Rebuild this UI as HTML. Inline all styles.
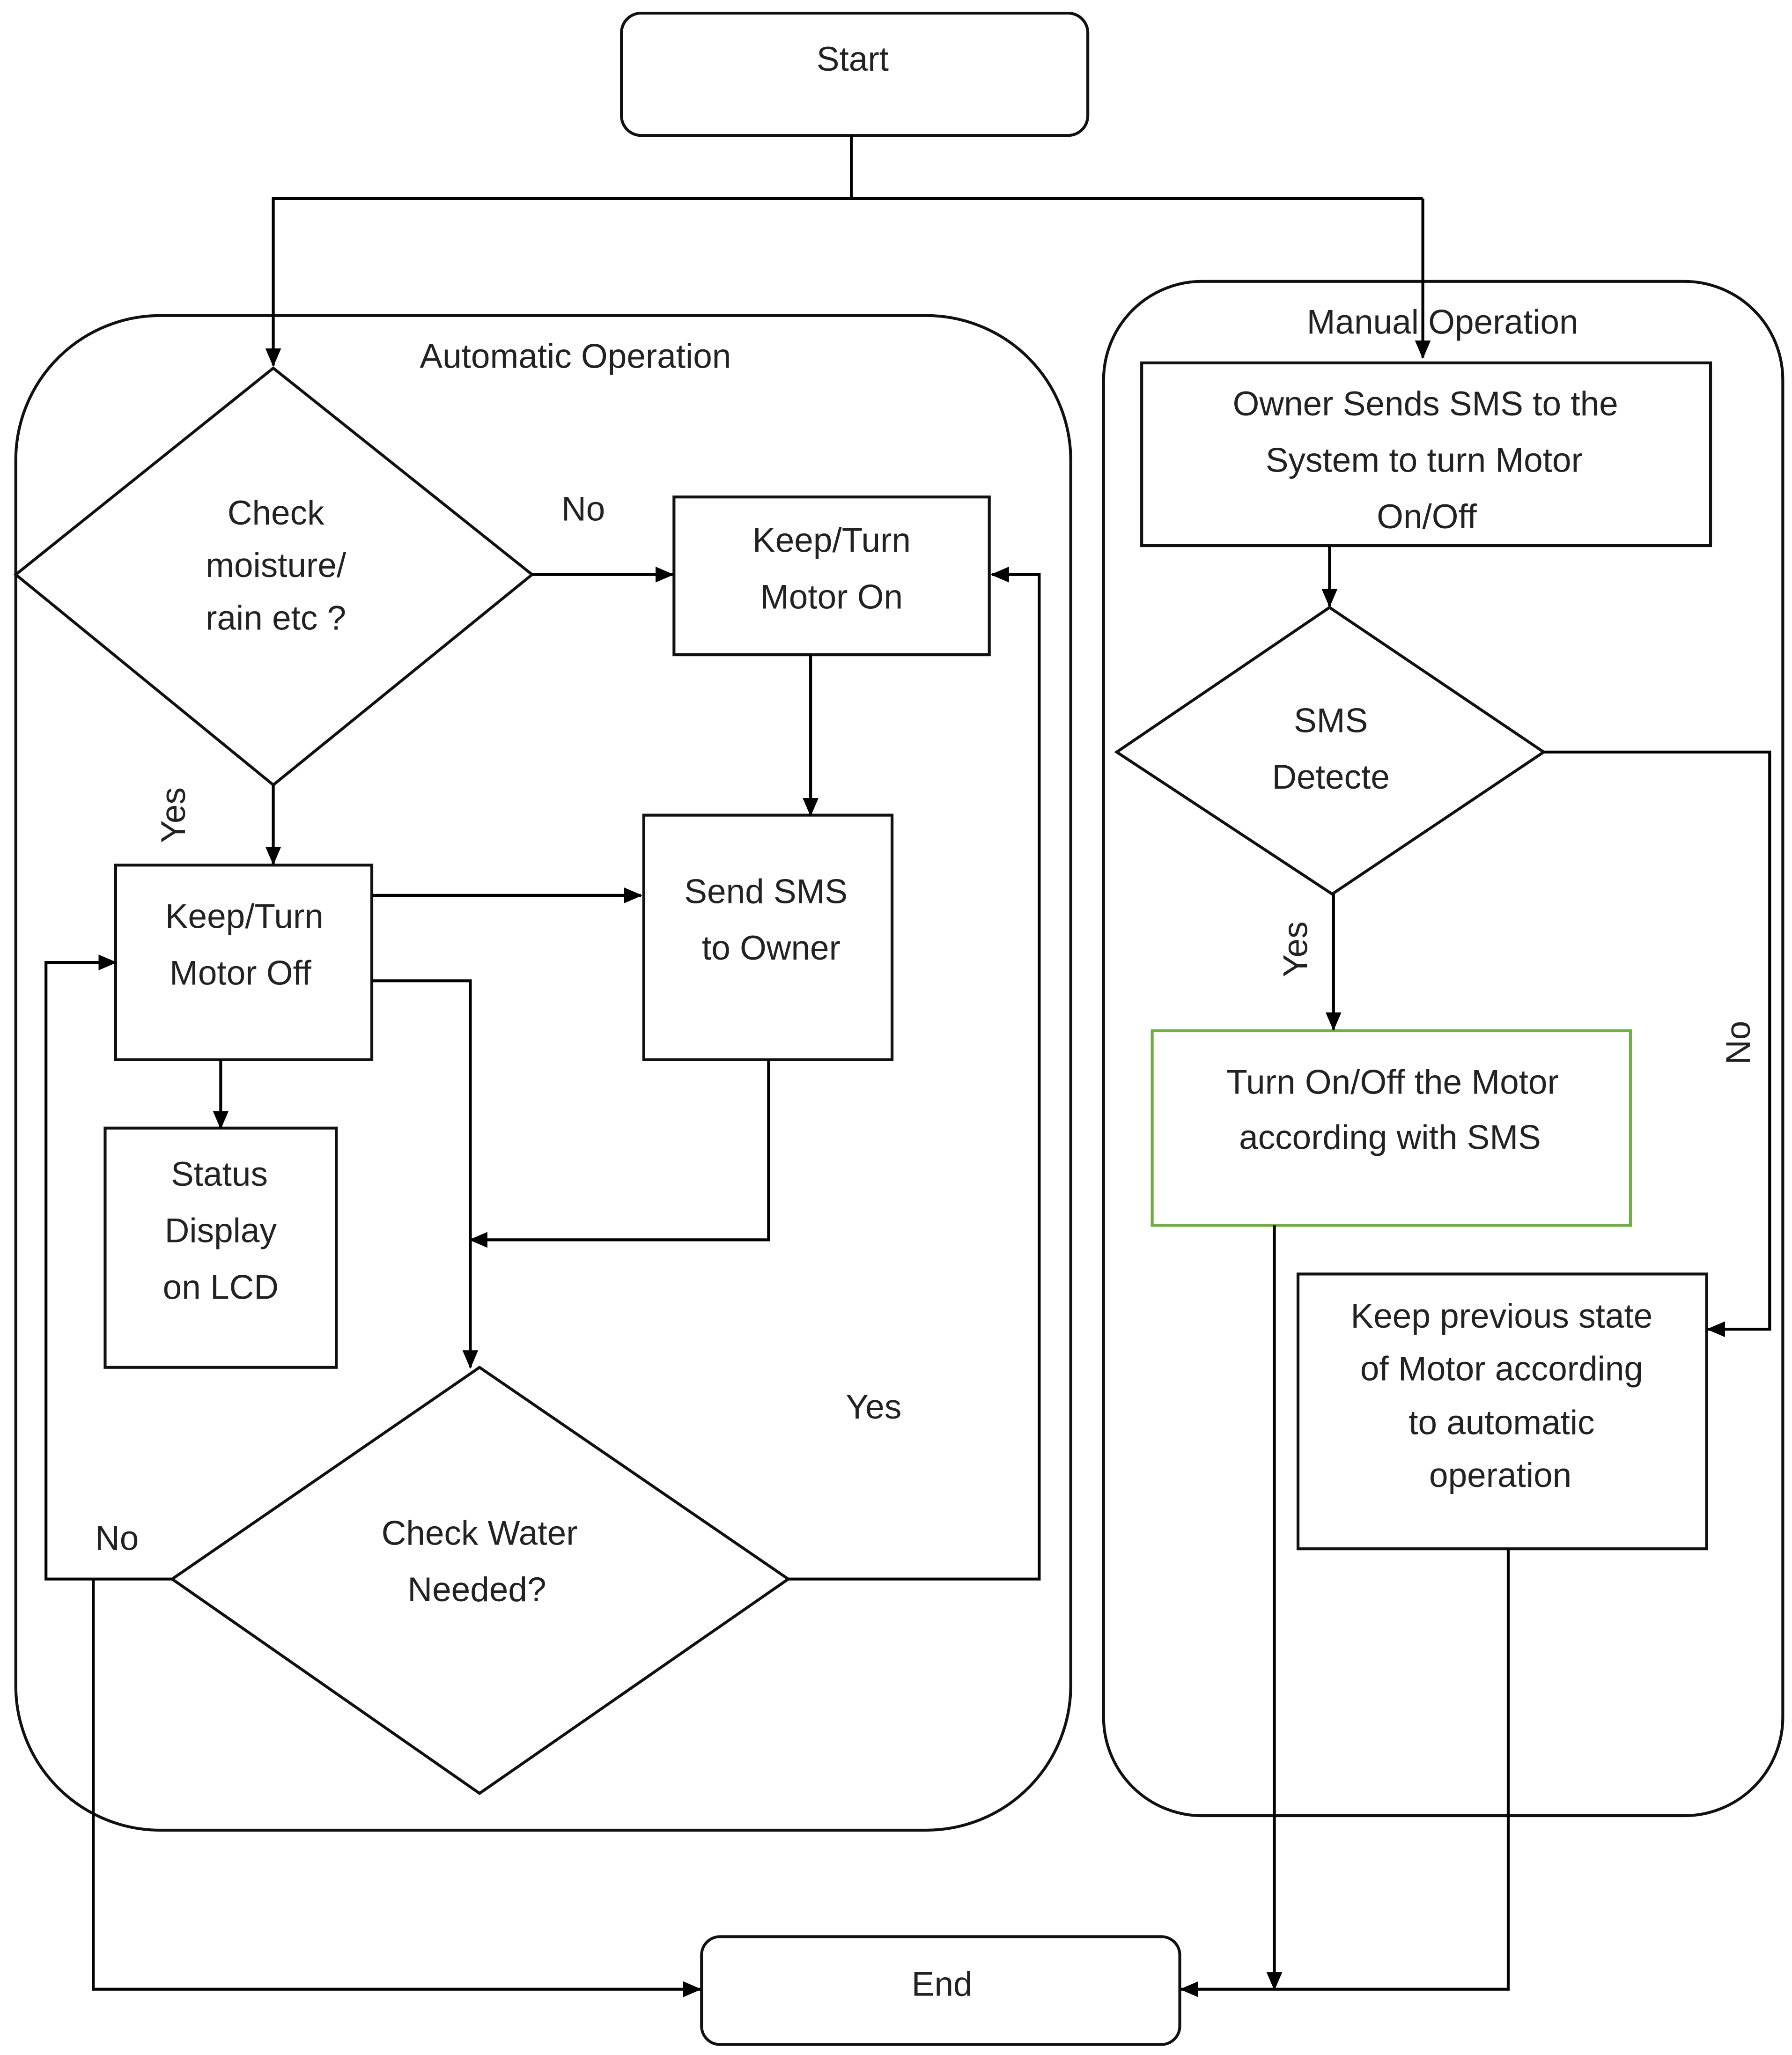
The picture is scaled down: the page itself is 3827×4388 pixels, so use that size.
<!DOCTYPE html>
<html><head><meta charset="utf-8"><style>
html,body{margin:0;padding:0;background:#fff}
svg{display:block}
text{font-family:"Liberation Sans",sans-serif;font-size:26px;fill:#222;text-anchor:middle;dominant-baseline:middle}
</style></head><body>
<svg width="3827" height="4388" viewBox="0 0 1364 1563" preserveAspectRatio="none" xmlns="http://www.w3.org/2000/svg">
<defs>
<marker id="a" markerWidth="10" markerHeight="10" refX="9" refY="5" orient="auto" markerUnits="userSpaceOnUse"><path d="M0,0 L10,5 L0,10 z" fill="#000"/></marker>
<marker id="b" markerWidth="14" markerHeight="14" refX="13" refY="7" orient="auto" markerUnits="userSpaceOnUse"><path d="M0,1 L14,7 L0,13 z" fill="#000"/></marker>
<clipPath id="c1"><rect x="869" y="276" width="433" height="139"/></clipPath>
</defs>
<g fill="none" stroke="#111" stroke-width="2.2">
<rect x="473" y="10" width="355" height="93" rx="15"/>
<rect x="12" y="240" width="803" height="1152" rx="110"/>
<rect x="840" y="214" width="517" height="1167" rx="75"/>
<polygon points="208,280 405,437 208,597 12,437"/>
<rect x="513" y="378" width="240" height="120"/>
<rect x="490" y="620" width="189" height="186"/>
<rect x="88" y="658" width="195" height="148"/>
<rect x="80" y="858" width="176" height="182"/>
<polygon points="365,1040 600,1201 365,1364 131,1201"/>
<rect x="534" y="1473" width="364" height="82" rx="14"/>
<rect x="869" y="276" width="433" height="139"/>
<polygon points="1012,462 1175,572 1014,680 850,572"/>
<rect x="877" y="784" width="364" height="148" stroke="#70AD47"/>
<rect x="988" y="969" width="311" height="209"/>
</g>
<g fill="none" stroke="#000" stroke-width="2.2">
<polyline points="648,103 648,151"/>
<polyline points="1083,151 208,151 208,278" marker-end="url(#b)"/>
<polyline points="1083,151 1083,272" marker-end="url(#b)"/>
<polyline points="405,437 512,437" marker-end="url(#b)"/>
<polyline points="617,498 617,620" marker-end="url(#b)"/>
<polyline points="208,597 208,657" marker-end="url(#b)"/>
<polyline points="283,681 488,681" marker-end="url(#b)"/>
<polyline points="283,746 358,746 358,1040" marker-end="url(#b)"/>
<polyline points="168,806 168,858" marker-end="url(#b)"/>
<polyline points="585,806 585,943 358,943" marker-end="url(#b)"/>
<polyline points="600,1201 791,1201 791,437 755,437" marker-end="url(#b)"/>
<polyline points="131,1201 35,1201 35,732 88,732" marker-end="url(#b)"/>
<polyline points="71,1201 71,1513 533,1513" marker-end="url(#b)"/>
<polyline points="1012,415 1012,461" marker-end="url(#b)"/>
<polyline points="1015,680 1015,783" marker-end="url(#b)"/>
<polyline points="1175,572 1347,572 1347,1011 1300,1011" marker-end="url(#b)"/>
<polyline points="970,932 970,1513" marker-end="url(#b)"/>
<polyline points="1148,1178 1148,1513 899,1513" marker-end="url(#b)"/>
</g>
<text x="649" y="47">Start</text>
<text x="438" y="273">Automatic Operation</text>
<text x="1098" y="247">Manual  Operation</text>
<text x="210" y="392">Check</text>
<text x="210" y="432">moisture/</text>
<text x="210" y="472">rain etc ?</text>
<text x="444" y="389">No</text>
<text x="633" y="413">Keep/Turn</text>
<text x="633" y="456">Motor On</text>
<text x="583" y="680">Send SMS</text>
<text x="587" y="723">to Owner</text>
<text x="134" y="620" transform="rotate(-90 134 620)">Yes</text>
<text x="186" y="699">Keep/Turn</text>
<text x="183" y="742">Motor Off</text>
<text x="167" y="895">Status</text>
<text x="168" y="938">Display</text>
<text x="168" y="981">on LCD</text>
<text x="365" y="1168">Check Water</text>
<text x="363" y="1211">Needed?</text>
<text x="665" y="1072">Yes</text>
<text x="89" y="1172">No</text>
<text x="717" y="1511">End</text>
<text x="1085" y="309">Owner Sends SMS to the</text>
<text x="1084" y="352">System to turn Motor</text>
<text x="1086" y="395" clip-path="url(#c1)">On/Off</text>
<text x="1013" y="550">SMS</text>
<text x="1013" y="593">Detecte</text>
<text x="988" y="722" transform="rotate(-90 988 722)">Yes</text>
<text x="1325" y="793" transform="rotate(-90 1325 793)">No</text>
<text x="1060" y="825">Turn On/Off the Motor</text>
<text x="1058" y="867">according with SMS</text>
<text x="1143" y="1003">Keep previous state</text>
<text x="1143" y="1043">of Motor according</text>
<text x="1143" y="1084">to automatic</text>
<text x="1142" y="1124">operation</text>
</svg>
</body></html>
